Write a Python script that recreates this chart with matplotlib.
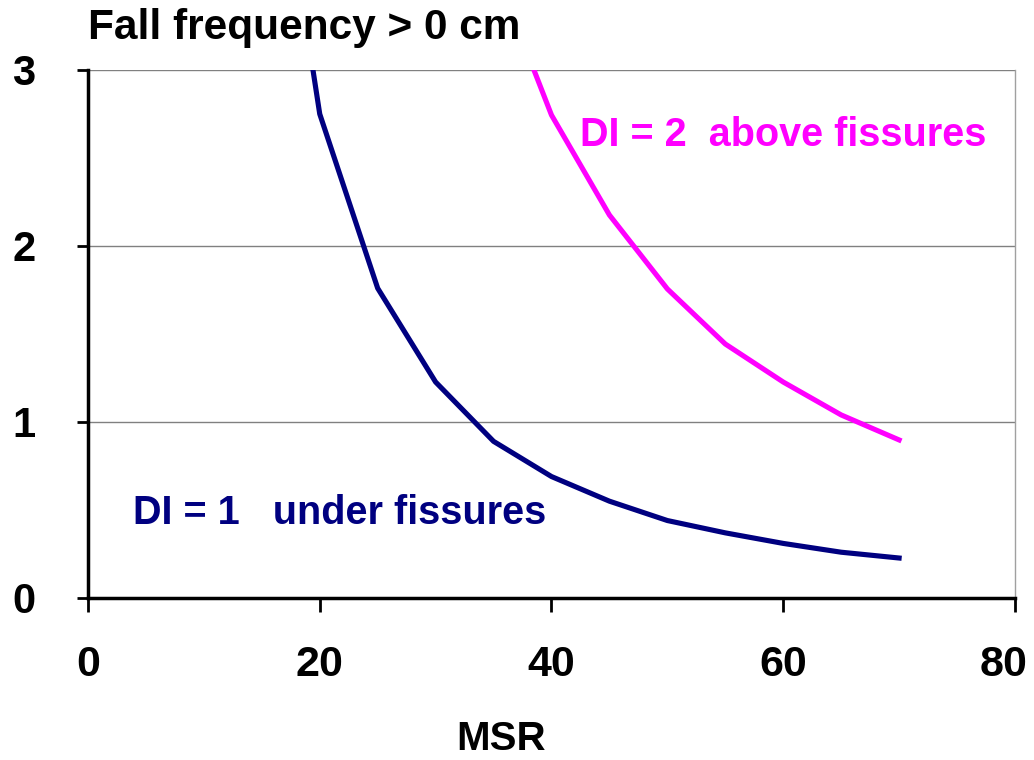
import matplotlib.pyplot as plt
import matplotlib as mpl
from matplotlib.transforms import ScaledTranslation

# MSR values (x) and fall frequency for the two curves
msr = [15, 20, 25, 30, 35, 40, 45, 50, 55, 60, 65, 70]
di1_under = [4.89, 2.75, 1.76, 1.227, 0.89, 0.69, 0.55, 0.44, 0.37, 0.31, 0.26, 0.227]
di2_above = [None, None, None, None, 3.59, 2.744, 2.176, 1.756, 1.443, 1.227, 1.04, 0.898]

x_ticks = [0, 20, 40, 60, 80]
y_ticks = [0, 1, 2, 3]

mpl.rcParams['font.family'] = ['Liberation Sans', 'DejaVu Sans']


def main():
    fig = plt.figure(figsize=(10.34, 7.6), dpi=100)
    ax = fig.add_axes([0.0851, 0.2132, 0.8965, 0.6947])

    xs2 = [x for x, v in zip(msr, di2_above) if v is not None]
    ys2 = [v for v in di2_above if v is not None]

    ax.plot(msr, di1_under, color='#000080', lw=3.7)
    ax.plot(xs2, ys2, color='#FF00FF', lw=3.7)

    ax.set_xlim(0, 80)
    ax.set_ylim(0, 3)
    ax.set_xticks(x_ticks)
    ax.set_yticks(y_ticks)
    ax.set_xticklabels([str(t) for t in x_ticks], fontsize=31, fontweight='bold')
    ax.set_yticklabels([str(t) for t in y_ticks], fontsize=30, fontweight='bold')
    ax.tick_params(axis='x', direction='out', length=10, width=2, pad=24)
    ax.tick_params(axis='y', direction='out', length=8, width=2, pad=30)

    # keep the last x label inside the figure, like the original
    last = ax.get_xticklabels()[-1]
    last.set_transform(last.get_transform() + ScaledTranslation(-0.11, 0, fig.dpi_scale_trans))

    for y in y_ticks[1:]:
        ax.axhline(y, color='#808080', lw=1, zorder=0)

    ax.spines['left'].set_linewidth(2.5)
    ax.spines['bottom'].set_linewidth(2.5)
    ax.spines['top'].set_visible(False)
    ax.spines['right'].set_color('#a0a0a0')
    ax.spines['right'].set_linewidth(1)

    fig.text(0.485, 0.027, 'MSR', fontsize=29, fontweight='bold', ha='center', va='center')
    fig.text(0.085, 0.963, 'Fall frequency > 0 cm', fontsize=30.5, fontweight='bold', va='center')

    ax.text(42.5, 2.63, 'DI = 2  above fissures', color='#FF00FF', fontsize=28.5,
            fontweight='bold', va='center')
    ax.text(3.9, 0.485, 'DI = 1   under fissures', color='#000080', fontsize=28.5,
            fontweight='bold', va='center')

    fig.savefig('out.png', dpi=100)


if __name__ == "__main__":
    main()
